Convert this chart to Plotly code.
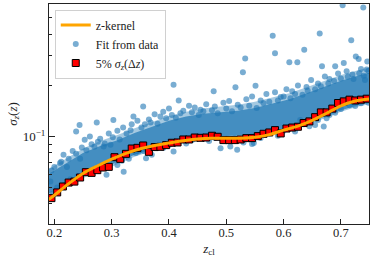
import plotly.graph_objects as go

# ---- data ----
sq_x = [0.195 + 0.01 * i for i in range(56)]
sq_y = [0.0433, 0.0468, 0.0507, 0.0535, 0.0542, 0.0573, 0.0616, 0.0610, 0.0633, 0.0656,
        0.0662, 0.0755, 0.0738, 0.0790, 0.0849, 0.0857, 0.0885, 0.0812, 0.0866, 0.0869,
        0.0889, 0.0918, 0.0922, 0.0960, 0.0960, 0.0986, 0.0982, 0.0986, 0.1010, 0.0996,
        0.0952, 0.0952, 0.0952, 0.0960, 0.0978, 0.0978, 0.1005, 0.1037, 0.1056, 0.1090,
        0.1042, 0.1114, 0.1129, 0.1141, 0.1200, 0.1227, 0.1300, 0.1387, 0.1387, 0.1460,
        0.1575, 0.1610, 0.1648, 0.1630, 0.1648, 0.1670]

kern_x = [0.19, 0.20, 0.225, 0.25, 0.275, 0.30, 0.325, 0.35, 0.375, 0.40, 0.425, 0.45,
          0.475, 0.50, 0.525, 0.55, 0.575, 0.60, 0.625, 0.65, 0.675, 0.70, 0.725, 0.75]
kern_y = [0.0425, 0.0450, 0.0527, 0.0605, 0.0670, 0.0735, 0.0795, 0.0846, 0.0885, 0.0915,
          0.0945, 0.0965, 0.0975, 0.0976, 0.0976, 0.0990, 0.1025, 0.1090, 0.1150, 0.1243,
          0.1370, 0.1517, 0.1620, 0.1665]

band_x = [0.19, 0.22, 0.25, 0.28, 0.31, 0.34, 0.37, 0.40, 0.43, 0.46, 0.49, 0.52, 0.55,
          0.58, 0.61, 0.64, 0.67, 0.70, 0.73, 0.75]
core_lo = [0.046, 0.052, 0.059, 0.064, 0.071, 0.078, 0.084, 0.090, 0.095, 0.098, 0.100,
           0.101, 0.103, 0.106, 0.111, 0.119, 0.130, 0.143, 0.153, 0.158]
core_hi = [0.060, 0.069, 0.080, 0.088, 0.095, 0.105, 0.114, 0.124, 0.131, 0.136, 0.139,
           0.142, 0.147, 0.156, 0.166, 0.180, 0.196, 0.213, 0.228, 0.238]
halo_lo = [0.044, 0.050, 0.057, 0.062, 0.069, 0.076, 0.082, 0.088, 0.093, 0.096, 0.098,
           0.099, 0.101, 0.104, 0.109, 0.116, 0.127, 0.140, 0.150, 0.155]
halo_hi = [0.064, 0.074, 0.085, 0.094, 0.102, 0.112, 0.122, 0.132, 0.140, 0.146, 0.150,
           0.154, 0.160, 0.169, 0.180, 0.195, 0.212, 0.230, 0.246, 0.256]

pts_x = [0.703, 0.739, 0.663, 0.718, 0.581, 0.585, 0.636, 0.533, 0.529, 0.610, 0.624,
         0.408, 0.478, 0.516, 0.551, 0.355, 0.417, 0.244, 0.238, 0.303, 0.274, 0.262,
         0.253, 0.216, 0.210, 0.193, 0.705, 0.726, 0.731, 0.667, 0.690, 0.746, 0.455,
         0.385, 0.338, 0.298, 0.286, 0.321, 0.291, 0.408, 0.360, 0.347, 0.490, 0.507,
         0.519, 0.548, 0.655, 0.670, 0.629,
         0.200, 0.225, 0.232, 0.248, 0.265, 0.280, 0.295, 0.310, 0.320, 0.335, 0.345,
         0.365, 0.375, 0.390, 0.400, 0.425, 0.435, 0.445, 0.465, 0.480, 0.495, 0.505,
         0.520, 0.535, 0.545, 0.560, 0.570, 0.585, 0.595, 0.605, 0.615, 0.625, 0.640,
         0.648, 0.660, 0.672, 0.680, 0.695, 0.710, 0.720, 0.735, 0.745, 0.742,
         0.205, 0.228, 0.260, 0.310, 0.330, 0.370, 0.390, 0.430, 0.470, 0.530, 0.560,
         0.590, 0.620, 0.645, 0.675, 0.690, 0.725, 0.748, 0.545,
         0.195, 0.212, 0.222, 0.238, 0.245, 0.256, 0.270, 0.276, 0.288, 0.302, 0.314,
         0.326, 0.333, 0.352, 0.358, 0.368, 0.380, 0.395, 0.405, 0.412, 0.420, 0.440,
         0.452, 0.460, 0.475, 0.485, 0.500, 0.510, 0.525, 0.540, 0.553, 0.565, 0.575,
         0.590, 0.600, 0.612, 0.620, 0.633, 0.642, 0.655, 0.665, 0.678, 0.688, 0.700,
         0.712, 0.722, 0.732, 0.740, 0.748,
         0.198, 0.218, 0.240, 0.270, 0.290, 0.318, 0.342, 0.356, 0.380, 0.400, 0.415,
         0.440, 0.460, 0.480, 0.500, 0.515, 0.545, 0.575, 0.600, 0.615, 0.635, 0.660,
         0.680, 0.700, 0.715, 0.735]
pts_y = [0.593, 0.575, 0.404, 0.369, 0.393, 0.310, 0.325, 0.288, 0.239, 0.274, 0.274,
         0.202, 0.185, 0.195, 0.199, 0.150, 0.163, 0.117, 0.107, 0.125, 0.121, 0.100,
         0.0955, 0.078, 0.0697, 0.0542, 0.271, 0.296, 0.286, 0.259, 0.259, 0.277, 0.1436,
         0.131, 0.131, 0.0893, 0.0873, 0.062, 0.0594, 0.0815, 0.0744, 0.0815, 0.0853, 0.0873,
         0.0834, 0.0914, 0.117, 0.1146, 0.125,
         0.066, 0.074, 0.082, 0.086, 0.090, 0.097, 0.104, 0.108, 0.113, 0.118, 0.124,
         0.126, 0.135, 0.140, 0.146, 0.142, 0.152, 0.148, 0.155, 0.150, 0.158, 0.162,
         0.154, 0.166, 0.172, 0.163, 0.178, 0.182, 0.171, 0.190, 0.185, 0.200, 0.196,
         0.215, 0.205, 0.226, 0.218, 0.235, 0.242, 0.232, 0.250, 0.248, 0.215,
         0.050, 0.056, 0.062, 0.068, 0.074, 0.078, 0.0855, 0.091, 0.094, 0.092, 0.098,
         0.101, 0.107, 0.115, 0.128, 0.138, 0.151, 0.158, 0.0902,
         0.063, 0.071, 0.066, 0.079, 0.074, 0.083, 0.087, 0.093, 0.091, 0.099, 0.096,
         0.104, 0.109, 0.113, 0.118, 0.121, 0.119, 0.128, 0.134, 0.129, 0.137, 0.139,
         0.134, 0.141, 0.143, 0.137, 0.146, 0.141, 0.148, 0.152, 0.147, 0.157, 0.160,
         0.163, 0.172, 0.168, 0.178, 0.176, 0.186, 0.190, 0.198, 0.205, 0.212, 0.220,
         0.225, 0.218, 0.236, 0.228, 0.243,
         0.046, 0.052, 0.058, 0.064, 0.068, 0.072, 0.080, 0.082, 0.087, 0.089, 0.093,
         0.095, 0.097, 0.098, 0.097, 0.098, 0.100, 0.104, 0.108, 0.112, 0.118, 0.125,
         0.134, 0.145, 0.153, 0.157]

x_ticks = [0.2, 0.3, 0.4, 0.5, 0.6, 0.7]
y_minor = [0.04, 0.05, 0.06, 0.07, 0.08, 0.09, 0.2, 0.3, 0.4, 0.5]

BLUE = "#1f77b4"
FONT = "Liberation Serif"

fig = go.Figure()
# sparse halo of the point cloud
fig.add_trace(go.Scatter(x=band_x, y=halo_lo, mode="lines", line=dict(width=0),
                         showlegend=False, hoverinfo="skip"))
fig.add_trace(go.Scatter(x=band_x, y=halo_hi, mode="lines", line=dict(width=0),
                         fill="tonexty", fillcolor="rgba(31,119,180,0.40)",
                         showlegend=False, hoverinfo="skip"))
# dense core of the point cloud
fig.add_trace(go.Scatter(x=band_x, y=core_lo, mode="lines", line=dict(width=0),
                         showlegend=False, hoverinfo="skip"))
fig.add_trace(go.Scatter(x=band_x, y=core_hi, mode="lines", line=dict(width=0),
                         fill="tonexty", fillcolor="rgba(31,119,180,0.72)",
                         showlegend=False, hoverinfo="skip"))
# individual points
fig.add_trace(go.Scatter(x=pts_x, y=pts_y, mode="markers", name="Fit from data",
                         legendrank=2,
                         marker=dict(symbol="circle", size=6, color=BLUE, opacity=0.6,
                                     line=dict(width=0))))
fig.add_trace(go.Scatter(x=sq_x, y=sq_y, mode="markers",
                         name="5% <i>σ</i><sub><i>z</i></sub>(Δ<i>z</i>)",
                         legendrank=3,
                         marker=dict(symbol="square", size=7, color="red",
                                     line=dict(color="black", width=1))))
fig.add_trace(go.Scatter(x=kern_x, y=kern_y, mode="lines", name="z-kernel",
                         legendrank=1, line=dict(color="orange", width=3, shape="spline")))

fig.update_layout(
    width=374, height=260,
    margin=dict(l=49, r=5, t=4, b=36, autoexpand=False),
    paper_bgcolor="white", plot_bgcolor="white",
    font=dict(family=FONT, size=12, color="#222"),
    legend=dict(x=0.018, y=0.975, xanchor="left", yanchor="top", traceorder="normal",
                bgcolor="rgba(255,255,255,0.85)", bordercolor="#d0d0d0", borderwidth=1,
                font=dict(family=FONT, size=12, color="#222"), tracegroupgap=0),
    showlegend=True,
)
fig.update_xaxes(range=[0.1907, 0.749], tickvals=x_ticks,
                 ticktext=[f"{v:.1f}" for v in x_ticks],
                 ticks="inside", ticklen=5, tickwidth=1, tickcolor="#222",
                 tickfont=dict(size=12.5), ticklabelstandoff=-3,
                 showline=True, linecolor="#222", linewidth=1, mirror=True,
                 showgrid=False, zeroline=False,
                 title=dict(text="<i>z</i><sub>cl</sub>", standoff=4,
                            font=dict(family=FONT, size=13)))
fig.update_yaxes(type="log", range=[-1.516, -0.219], tickvals=[0.1],
                 ticktext=["10<sup>−1</sup>"],
                 ticks="inside", ticklen=6, tickwidth=1, tickcolor="#222",
                 tickfont=dict(size=13),
                 minor=dict(tickvals=y_minor, ticks="inside", ticklen=3, tickcolor="#222",
                            showgrid=False),
                 showline=True, linecolor="#222", linewidth=1, mirror=True,
                 showgrid=False, zeroline=False,
                 title=dict(text="<i>σ</i><sub><i>z</i></sub>(<i>z</i>)", standoff=2,
                            font=dict(family=FONT, size=13)))

fig.write_html("out.html", config={"displayModeBar": False},
               post_script="document.body.style.margin='0';")
